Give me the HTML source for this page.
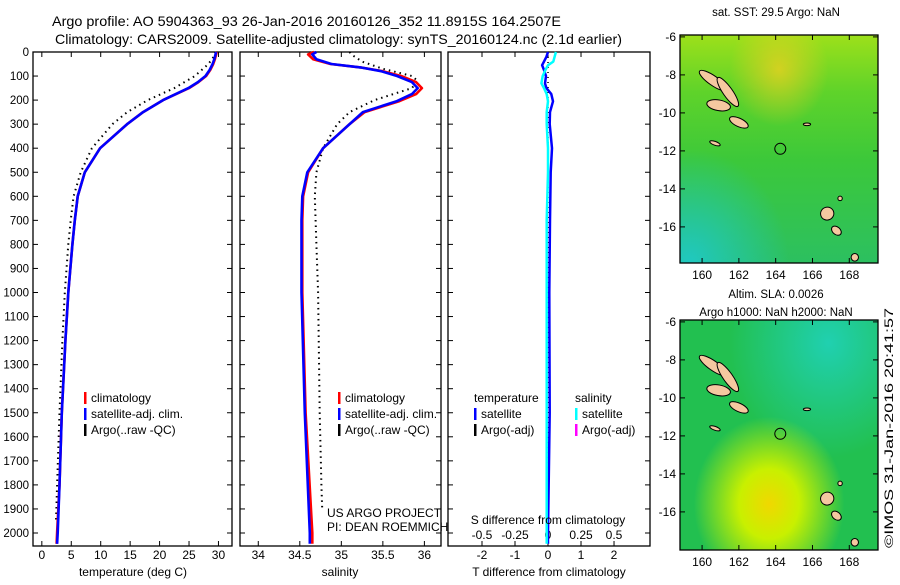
<!DOCTYPE html>
<html><head><meta charset="utf-8"><style>
body{margin:0;background:#fff;width:900px;height:580px;overflow:hidden}
svg{font-family:"Liberation Sans",sans-serif;font-size:12px}
</style></head><body>
<svg id="s" width="900" height="580">
<defs>
<linearGradient id="sstv" x1="0" y1="0" x2="0" y2="1">
<stop offset="0" stop-color="#9de01a"/><stop offset="0.25" stop-color="#5fd32a"/><stop offset="0.55" stop-color="#3cc83a"/><stop offset="1" stop-color="#2cc060"/></linearGradient>
<radialGradient id="sstc" cx="0.05" cy="1" r="0.5"><stop offset="0" stop-color="#20c8c0" stop-opacity="1"/><stop offset="1" stop-color="#20c8c0" stop-opacity="0"/></radialGradient>
<radialGradient id="ssty" cx="0.5" cy="0.15" r="0.25"><stop offset="0" stop-color="#e8d020" stop-opacity="0.8"/><stop offset="1" stop-color="#e8d020" stop-opacity="0"/></radialGradient>
<radialGradient id="slay" cx="0.45" cy="0.8" r="0.38"><stop offset="0" stop-color="#f0d800"/><stop offset="0.4" stop-color="#c8f000"/><stop offset="1" stop-color="#c8f000" stop-opacity="0"/></radialGradient>
<radialGradient id="slac" cx="0.75" cy="0.1" r="0.5"><stop offset="0" stop-color="#20d0b0"/><stop offset="1" stop-color="#20d0b0" stop-opacity="0"/></radialGradient>
</defs>
<g id="titles">
<text x="52" y="26" textLength="509" lengthAdjust="spacingAndGlyphs" font-size="14">Argo profile: AO 5904363_93 26-Jan-2016 20160126_352 11.8915S 164.2507E</text>
<text x="55" y="44" textLength="567" lengthAdjust="spacingAndGlyphs" font-size="14">Climatology: CARS2009. Satellite-adjusted climatology: synTS_20160124.nc (2.1d earlier)</text>
</g>
<g id="plots"></g>
<g id="maps"></g>
<text x="0" y="0" transform="translate(893,548) rotate(-90)" font-size="12" textLength="240" lengthAdjust="spacingAndGlyphs">©IMOS 31-Jan-2016 20:41:57</text>
</svg>
<script>
// ---- data ----
const depthT=[0,10,30,50,75,100,125,150,200,250,300,400,500,600,700,800,1000,1200,1500,1800,2000,2045];
const tempClim=[29.7,29.6,29.4,29.1,28.6,27.9,26.6,25,20.6,17.2,14.5,9.9,7.3,6.1,5.6,5.2,4.5,4.0,3.4,3.0,2.6,2.5];
const tempSat=[29.6,29.5,29.3,29.0,28.5,27.8,26.5,24.9,20.6,17.2,14.5,9.9,7.3,6.1,5.6,5.2,4.5,4.0,3.4,3.0,2.7,2.6];
const depthA=[0,20,50,100,150,200,250,300,400,500,600,700,800,1000,1200,1500,1800,1950];
const tempArgo=[29.5,29.2,28.3,26,22.5,18,14.5,12,8.5,6.6,5.4,4.9,4.5,3.9,3.5,3.0,2.6,2.4];
const depthS=[0,10,30,50,64,80,100,125,150,175,204,250,300,400,500,600,700,1000,1500,2000,2045];
const salClim=[34.67,34.6,34.66,34.87,35.23,35.5,35.72,35.9,35.97,35.9,35.7,35.28,35.1,34.78,34.6,34.54,34.53,34.53,34.57,34.65,34.65];
const salSat=[34.7,34.65,34.7,34.88,35.23,35.48,35.67,35.85,35.92,35.85,35.67,35.26,35.1,34.78,34.59,34.53,34.52,34.52,34.56,34.62,34.62];
const salArgo=[35.1,35.12,35.25,35.5,35.85,35.92,35.85,35.4,35.1,34.95,34.78,34.7,34.68,34.7,34.72,34.74,34.76,34.77];
const depthArgoS=[0,10,40,70,100,120,150,200,250,300,400,500,600,800,1000,1500,1800,1900];
const depthD=[0,20,40,55,75,100,130,150,175,205,250,300,400,500,700,1000,1500,2000,2045];
const tDiffSat=[0,-0.05,-0.12,-0.18,-0.12,-0.06,-0.09,-0.05,0.1,0.15,0.06,0.05,0.12,0.08,0.06,0.04,0.05,0.0,0.0];
const sDiffSat=[0.06,0.05,0.04,0.0,-0.02,-0.04,-0.05,-0.03,-0.01,0.0,-0.01,-0.01,0.0,0.0,-0.01,-0.01,-0.01,-0.01,-0.01];
const tTicks=[0,5,10,15,20,25,30];
const sTicks=[34,34.5,35,35.5,36];
const dTicksT=[-2,-1,0,1,2];
const dTicksS=[-0.5,-0.25,0,0.25,0.5];
const dTickSLabels=["-0.5","-0.25","0","0.25","0.5"];
const depthTicks=[0,100,200,300,400,500,600,700,800,900,1000,1100,1200,1300,1400,1500,1600,1700,1800,1900,2000];
const lonTicks=[160,162,164,166,168];
const latTicks=[-6,-8,-10,-12,-14,-16];
const argoPos=[164.25,-11.89];

const NS='http://www.w3.org/2000/svg';
function mk(tag,attrs,parent){const e=document.createElementNS(NS,tag);for(const k in attrs)e.setAttribute(k,attrs[k]);(parent||document.getElementById('plots')).appendChild(e);return e;}
const pTop=52,bot=546;
const yD=d=>pTop+d*0.2405;
const panels=[
 {x0:33,x1:232,v0:-1.5,v1:32.3,name:'temperature-panel'},
 {x0:240,x1:441,v0:33.78,v1:36.2,name:'salinity-panel'},
 {x0:448,x1:650,v0:-3.03,v1:3.09,name:'difference-panel'}];
function xf(p,v){return p.x0+(v-p.v0)/(p.v1-p.v0)*(p.x1-p.x0);}
const P=document.getElementById('plots');
panels.forEach((p,i)=>{
 const g=mk('g',{},P);
 
 
 p.g=g;
 const r=mk('rect',{x:p.x0,y:pTop,width:p.x1-p.x0,height:bot-pTop,fill:'none',stroke:'#000','stroke-width':1.3},g);
 
 
 depthTicks.forEach(d=>{
  mk('line',{x1:p.x0,x2:p.x0+5,y1:yD(d),y2:yD(d),stroke:'#000'},g);
  mk('line',{x1:p.x1,x2:p.x1-5,y1:yD(d),y2:yD(d),stroke:'#000'},g);
 });
});
depthTicks.forEach(d=>{
 const t=mk('text',{x:29,y:yD(d)+4,'text-anchor':'end','font-size':11.5},P);
 t.textContent=d;
 
 
});
function xTicks(p,ticks,labels,ly,tickTop){
 ticks.forEach((v,j)=>{
  const x=xf(p,v);
  mk('line',{x1:x,x2:x,y1:bot,y2:bot-5,stroke:'#000'},p.g);
  if(tickTop)mk('line',{x1:x,x2:x,y1:pTop,y2:pTop+5,stroke:'#000'},p.g);
  const t=mk('text',{x:x,y:ly,'text-anchor':'middle','font-size':12},p.g);
  t.textContent=labels?labels[j]:v;
  
  
 });
}
xTicks(panels[0],tTicks,null,559,true);
xTicks(panels[1],sTicks,null,559,true);
xTicks(panels[2],dTicksT,null,559,true);
const p3=panels[2];
dTicksS.forEach((v,j)=>{
 const x=xf(p3,v*4);
 const t=mk('text',{x:x,y:539,'text-anchor':'middle','font-size':12},p3.g);
 t.textContent=dTickSLabels[j];
 
 
});
function label(x,y,txt,name,anchor,size){const t=mk('text',{x:x,y:y,'text-anchor':anchor||'middle','font-size':size||12},P);t.textContent=txt;return t;}
label(133,576,'temperature (deg C)','x-axis-title-temperature');
label(340,576,'salinity','x-axis-title-salinity');
label(549,576,'T difference from climatology','x-axis-title-t-diff');
label(548,524,'S difference from climatology','s-diff-axis-title');
label(327,517,'US ARGO PROJECT','project-credit','start');
label(327,531,'PI: DEAN ROEMMICH','pi-credit','start');
function drawLine(p,vals,depths,color,w,dash,name,scale){
 let d='';vals.forEach((v,k)=>{d+=(k?'L':'M')+xf(p,v*(scale||1)).toFixed(1)+','+yD(depths[k]).toFixed(1);});
 const e=mk('path',{d:d,fill:'none',stroke:color,'stroke-width':w,'stroke-dasharray':dash||'none','stroke-linejoin':'round'},p.g);
 
 
}
drawLine(panels[0],tempArgo,depthA,'#000',2,'1.5,4','argo-temperature-line');
drawLine(panels[0],tempClim,depthT,'#f00',2.6,null,'climatology-temperature-line');
drawLine(panels[0],tempSat,depthT,'#00f',2.6,null,'satellite-temperature-line');
drawLine(panels[1],salArgo,depthArgoS,'#000',2,'1.5,4','argo-salinity-line');
drawLine(panels[1],salClim,depthS,'#f00',2.6,null,'climatology-salinity-line');
drawLine(panels[1],salSat,depthS,'#00f',2.6,null,'satellite-salinity-line');
drawLine(p3,depthD.map(()=>0),depthD,'#000',1.5,'1,4','argo-diff-line');
drawLine(p3,tDiffSat,depthD,'#00f',2.5,null,'t-diff-satellite-line');
drawLine(p3,sDiffSat,depthD,'#0ff',2.5,null,'s-diff-satellite-line',4);
function legend(x,y,items,name){
 const g=mk('g',{},P);
 items.forEach((it,k)=>{
  const yy=y+k*16;
  if(it[1])mk('rect',{x:x,y:yy-10,width:2.5,height:12,fill:it[1]},g);
  const t=mk('text',{x:x+(it[1]?7:0),y:yy,'font-size':12},g);t.textContent=it[0];
  
  
 });
}
const leg=[['climatology','#f00'],['satellite-adj. clim.','#00f'],['Argo(..raw -QC)','#000']];
legend(84,402,leg,'temperature-legend');
legend(338,402,leg,'salinity-legend');
legend(474,402,[['temperature',null],['satellite','#00f'],['Argo(-adj)','#000']],'t-diff-legend');
legend(575,402,[['salinity',null],['satellite','#0ff'],['Argo(-adj)','#f0f']],'s-diff-legend');

const M=document.getElementById('maps');
const maps=[{y0:35,y1:263,title:['sat. SST: 29.5 Argo: NaN'],ty:[16],name:'sst-map'},
 {y0:320,y1:550,title:['Altim. SLA: 0.0026','Argo h1000: NaN h2000: NaN'],ty:[298,316],name:'sla-map'}];
const mx0=680,mx1=878,lon0=158.8,lat0=-5.9;
const islands=[[160.6,-8.3,0.9,0.25,35],[161.4,-8.9,0.95,0.25,55],[160.9,-9.6,0.65,0.28,10],[162.0,-10.5,0.55,0.22,25],[160.7,-11.6,0.3,0.1,20],[166.8,-15.3,0.35,0.35,70],[167.3,-16.2,0.3,0.2,40],[168.3,-17.6,0.2,0.2,0],[165.7,-10.6,0.2,0.07,0],[167.5,-14.5,0.12,0.12,0]];
maps.forEach((m,i)=>{
 const g=mk('g',{},M);
 const lx=v=>mx0+(v-lon0)*18.4, ly=v=>m.y0+(lat0-v)*19;
 mk('rect',{x:mx0,y:m.y0,width:mx1-mx0,height:m.y1-m.y0,fill:i?'#22c050':'url(#sstv)'},g);
 if(i==0){mk('rect',{x:mx0,y:m.y0,width:mx1-mx0,height:m.y1-m.y0,fill:'url(#sstc)'},g);mk('rect',{x:mx0,y:m.y0,width:mx1-mx0,height:m.y1-m.y0,fill:'url(#ssty)'},g);}
 else{mk('rect',{x:mx0,y:m.y0,width:mx1-mx0,height:m.y1-m.y0,fill:'url(#slac)'},g);mk('rect',{x:mx0,y:m.y0,width:mx1-mx0,height:m.y1-m.y0,fill:'url(#slay)'},g);}
 islands.forEach(s=>{const e=mk('ellipse',{cx:lx(s[0]),cy:ly(s[1]),rx:s[2]*18.4,ry:s[3]*19,fill:'#f5c8a0',stroke:'#000','stroke-width':1,transform:`rotate(${s[4]} ${lx(s[0])} ${ly(s[1])})`},g);});
 const c=mk('circle',{cx:lx(argoPos[0]),cy:ly(argoPos[1]),r:5.5,fill:'none',stroke:'#000','stroke-width':1},g);
 
 
 mk('rect',{x:mx0,y:m.y0,width:mx1-mx0,height:m.y1-m.y0,fill:'none',stroke:'#000','stroke-width':1.3},g);
 lonTicks.forEach(v=>{mk('line',{x1:lx(v),x2:lx(v),y1:m.y0,y2:m.y0+5,stroke:'#000'},g);mk('line',{x1:lx(v),x2:lx(v),y1:m.y1,y2:m.y1-5,stroke:'#000'},g);
  const t=mk('text',{x:lx(v),y:m.y1+16,'text-anchor':'middle','font-size':12},g);t.textContent=v;});
 latTicks.forEach(v=>{mk('line',{x1:mx0,x2:mx0+5,y1:ly(v),y2:ly(v),stroke:'#000'},g);mk('line',{x1:mx1,x2:mx1-5,y1:ly(v),y2:ly(v),stroke:'#000'},g);
  const t=mk('text',{x:676,y:ly(v)+4,'text-anchor':'end','font-size':12},g);t.textContent=v;});
 m.title.forEach((s,k)=>{const t=mk('text',{x:776,y:m.ty[k],'text-anchor':'middle','font-size':11.5},g);t.textContent=s;});
});
</script>
</body></html>
